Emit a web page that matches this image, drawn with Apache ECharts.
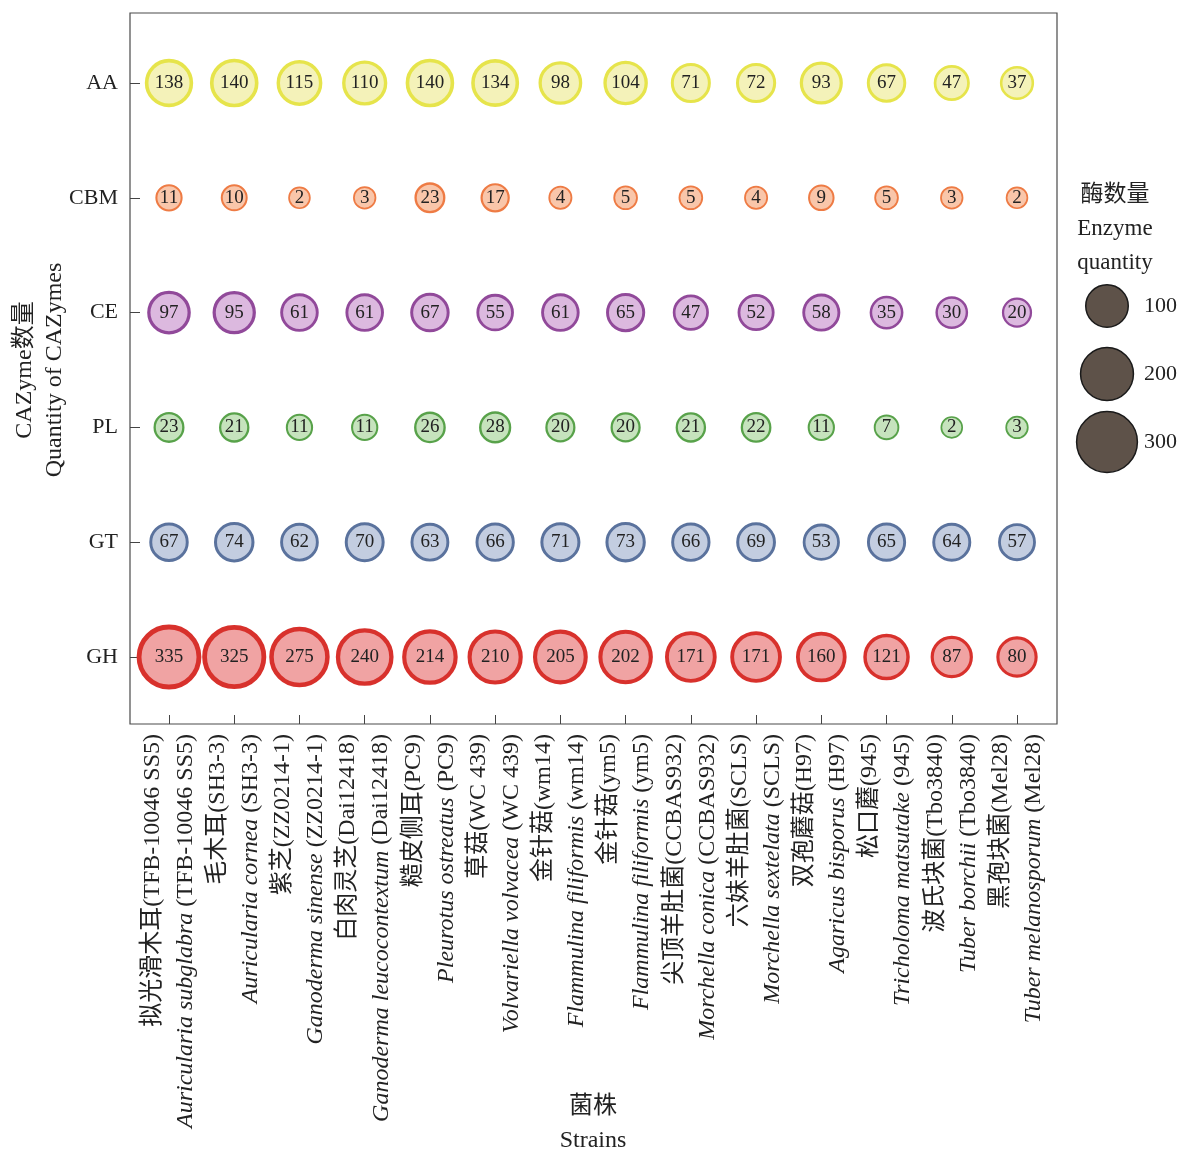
<!DOCTYPE html>
<html>
<head>
<meta charset="utf-8">
<script src="https://cdn.jsdelivr.net/npm/echarts@6/dist/echarts.min.js"></script>
<style>
html, body { margin: 0; padding: 0; background: #fff; }
#main { width: 1184px; height: 1153px; }
</style>
</head>
<body>
<div id="main"></div>
<script>
// 菌株名称
const cnNames = ['拟光滑木耳', '毛木耳', '紫芝', '白肉灵芝', '糙皮侧耳', '草菇', '金针菇',
  '金针菇', '尖顶羊肚菌', '六妹羊肚菌', '双孢蘑菇', '松口蘑', '波氏块菌', '黑孢块菌'];
const latinNames = ['Auricularia subglabra', 'Auricularia cornea', 'Ganoderma sinense',
  'Ganoderma leucocontextum', 'Pleurotus ostreatus', 'Volvariella volvacea', 'Flammulina filiformis',
  'Flammulina filiformis', 'Morchella conica', 'Morchella sextelata', 'Agaricus bisporus',
  'Tricholoma matsutake', 'Tuber borchii', 'Tuber melanosporum'];
const strainIds = ['TFB-10046 SS5', 'SH3-3', 'ZZ0214-1', 'Dai12418', 'PC9', 'WC 439', 'wm14',
  'ym5', 'CCBAS932', 'SCLS', 'H97', '945', 'Tbo3840', 'Mel28'];

// 酶类别 (从下到上)
const enzymeClasses = ['GH', 'GT', 'PL', 'CE', 'CBM', 'AA'];

const ghCounts  = [335, 325, 275, 240, 214, 210, 205, 202, 171, 171, 160, 121, 87, 80];
const gtCounts  = [67, 74, 62, 70, 63, 66, 71, 73, 66, 69, 53, 65, 64, 57];
const plCounts  = [23, 21, 11, 11, 26, 28, 20, 20, 21, 22, 11, 7, 2, 3];
const ceCounts  = [97, 95, 61, 61, 67, 55, 61, 65, 47, 52, 58, 35, 30, 20];
const cbmCounts = [11, 10, 2, 3, 23, 17, 4, 5, 5, 4, 9, 5, 3, 2];
const aaCounts  = [138, 140, 115, 110, 140, 134, 98, 104, 71, 72, 93, 67, 47, 37];

const legendValues = [100, 200, 300];

const serif = '"Liberation Serif", "Times New Roman", "Noto Sans CJK SC", serif';

const classStyles = {
  GH:  { fill: '#f0a3a3', stroke: '#d8312c' },
  GT:  { fill: '#c3cde0', stroke: '#5a729d' },
  PL:  { fill: '#c6e3bd', stroke: '#58a24a' },
  CE:  { fill: '#dcb9df', stroke: '#91499a' },
  CBM: { fill: '#f9c6aa', stroke: '#ee7b44' },
  AA:  { fill: '#f4f2b9', stroke: '#e6e44b' }
};
const classCounts = { GH: ghCounts, GT: gtCounts, PL: plCounts, CE: ceCounts, CBM: cbmCounts, AA: aaCounts };

// 气泡外径随数量的平方根增长
function outerSize(v) { return 19 + 2.5 * Math.sqrt(v); }
function ringWidth(v) { return 0.075 * outerSize(v); }

function bubbleData(cls) {
  return classCounts[cls].map(function (v, i) {
    return { value: [i, cls, v], itemStyle: { borderWidth: ringWidth(v) } };
  });
}

const bubbleSeries = enzymeClasses.map(function (cls) {
  return {
    name: cls,
    type: 'scatter',
    xAxisIndex: 0,
    yAxisIndex: 0,
    data: bubbleData(cls),
    symbolSize: function (val) { return outerSize(val[2]) - ringWidth(val[2]); },
    itemStyle: { color: classStyles[cls].fill, borderColor: classStyles[cls].stroke, opacity: 1 },
    label: {
      show: true, position: 'inside', formatter: function (p) { return p.value[2]; },
      color: '#222', fontSize: 19, fontFamily: serif
    },
    emphasis: { disabled: true }
  };
});

const legendSeries = {
  type: 'scatter',
  xAxisIndex: 2,
  yAxisIndex: 2,
  data: legendValues.map(function (v, i) {
    return { value: [1, i, v], itemStyle: { borderWidth: 1.5 } };
  }),
  symbolSize: function (val) { return outerSize(val[2]) - 1.5; },
  itemStyle: { color: '#5e5249', borderColor: '#1a1a1a', opacity: 1 },
  label: {
    show: true, position: 'inside', align: 'left', offset: [37, 0],
    formatter: function (p) { return p.value[2]; },
    color: '#222', fontSize: 22, fontFamily: serif
  },
  emphasis: { disabled: true }
};

const option = {
  backgroundColor: '#fff',
  animation: false,
  grid: [
    { left: 169, right: 167, top: 83, bottom: 496, outerBoundsMode: 'none', containLabel: false },
    { left: 130, right: 127, top: 13, bottom: 429, outerBoundsMode: 'none', containLabel: false,
      show: true, borderColor: '#4a4a4a', borderWidth: 1.2 },
    { left: 1087, width: 40, top: 306, height: 136, outerBoundsMode: 'none', containLabel: false }
  ],
  xAxis: [
    {
      type: 'category', gridIndex: 0, data: cnNames, boundaryGap: false, offset: 67,
      axisLine: { show: false },
      axisTick: { show: true, inside: true, length: 9, lineStyle: { color: '#444' } },
      splitLine: { show: false },
      axisLabel: {
        interval: 0, rotate: 90, margin: 10, color: '#222', fontSize: 24, fontFamily: serif, lineHeight: 33,
        formatter: function (val, idx) {
          return cnNames[idx] + '(' + strainIds[idx] + ')\n{it|' + latinNames[idx] + '} (' + strainIds[idx] + ')';
        },
        rich: { it: { fontStyle: 'italic', fontSize: 24, fontFamily: serif, color: '#222', lineHeight: 33 } }
      },
      name: '菌株\nStrains', nameLocation: 'middle', nameGap: 366, nameMoveOverlap: false,
      nameTextStyle: { color: '#222', fontSize: 24, fontFamily: serif, lineHeight: 34 }
    },
    { type: 'value', gridIndex: 1, show: false },
    { type: 'value', gridIndex: 2, show: false, min: 0, max: 2 }
  ],
  yAxis: [
    {
      type: 'category', gridIndex: 0, data: enzymeClasses, boundaryGap: false, offset: 39,
      axisLine: { show: false },
      axisTick: { show: true, inside: true, length: 10, lineStyle: { color: '#444' } },
      splitLine: { show: false },
      axisLabel: { margin: 12, color: '#222', fontSize: 22, fontFamily: serif },
      name: 'CAZyme数量\nQuantity of CAZymes', nameLocation: 'middle', nameRotate: 90, nameGap: 60,
      nameMoveOverlap: false,
      nameTextStyle: { color: '#222', fontSize: 24, fontFamily: serif, lineHeight: 30 }
    },
    { type: 'value', gridIndex: 1, show: false },
    { type: 'value', gridIndex: 2, show: false, min: 0, max: 2, inverse: true }
  ],
  graphic: [
    {
      type: 'text', x: 1115, y: 178,
      style: {
        text: '酶数量\nEnzyme\nquantity', align: 'center', verticalAlign: 'top',
        fontSize: 23, fontFamily: serif, lineHeight: 34, fill: '#222'
      }
    }
  ],
  series: bubbleSeries.concat([legendSeries])
};

const chart = echarts.init(document.getElementById('main'));
chart.setOption(option);
</script>
</body>
</html>
